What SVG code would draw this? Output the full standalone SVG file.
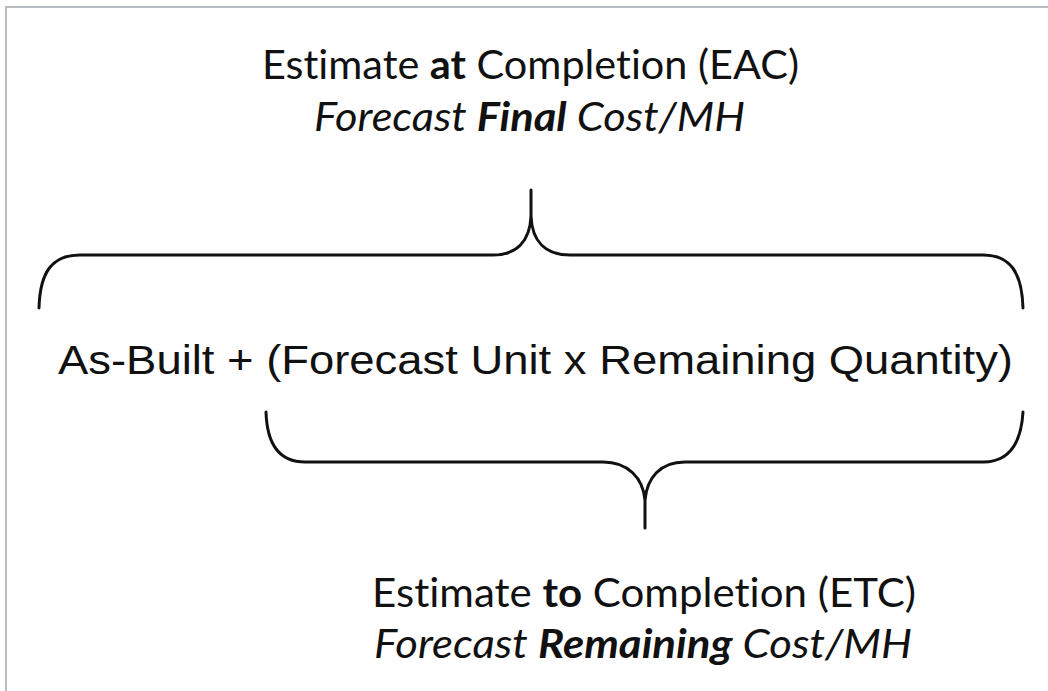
<svg xmlns="http://www.w3.org/2000/svg" width="1048" height="691" viewBox="0 0 1048 691">
  <style>
    .lbl { font-family: Lato, "Open Sans", "Noto Sans", sans-serif; font-size: 41px; fill: #111; font-variant-ligatures: none; }
    .it { font-style: italic; }
    .b { font-weight: bold; }
    .formula { font-family: "Liberation Sans", Arial, sans-serif; font-size: 41px; fill: #111; }
    .brace { fill: none; stroke: #111; stroke-width: 3; stroke-linecap: round; stroke-linejoin: round; }
    .frame { fill: none; stroke: #b9bdc1; stroke-width: 2; }
  </style>
  <rect x="0" y="0" width="1048" height="691" fill="#ffffff"/>
  <path class="frame" d="M6,691 L6,7 L1048,7"/>

  <g id="eac">
    <text class="lbl" x="262" y="79" textLength="537" lengthAdjust="spacingAndGlyphs">Estimate <tspan class="b">at</tspan> Completion (EAC)</text>
    <text class="lbl it" x="314" y="131" textLength="431" lengthAdjust="spacingAndGlyphs">Forecast <tspan class="b">Final</tspan> Cost/MH</text>
  </g>

  <g id="formula">
    <text class="formula" x="58" y="374" textLength="955" lengthAdjust="spacingAndGlyphs">As-Built + (Forecast Unit x Remaining Quantity)</text>
  </g>

  <g id="etc">
    <text class="lbl" x="372" y="607" textLength="544" lengthAdjust="spacingAndGlyphs">Estimate <tspan class="b">to</tspan> Completion (ETC)</text>
    <text class="lbl it" x="374" y="658" textLength="538" lengthAdjust="spacingAndGlyphs">Forecast <tspan class="b">Remaining</tspan> Cost/MH</text>
  </g>

  <g id="connectors">
    <path id="brace-eac" class="brace" d="M39,308 C40,272 52,255 80,255 L493,255 C516,255 530,242 531,216 L531,190 M531,216 C532,242 546,255 570,255 L983,255 C1010,255 1022,272 1023,308"/>
    <path id="brace-etc" class="brace" d="M266,412 C267,445 280,462 305,462 L603,462 C628,462 643,478 645,500 L645,528 M645,500 C647,478 660,462 685,462 L983,462 C1008,462 1021,445 1023,412"/>
  </g>
</svg>
